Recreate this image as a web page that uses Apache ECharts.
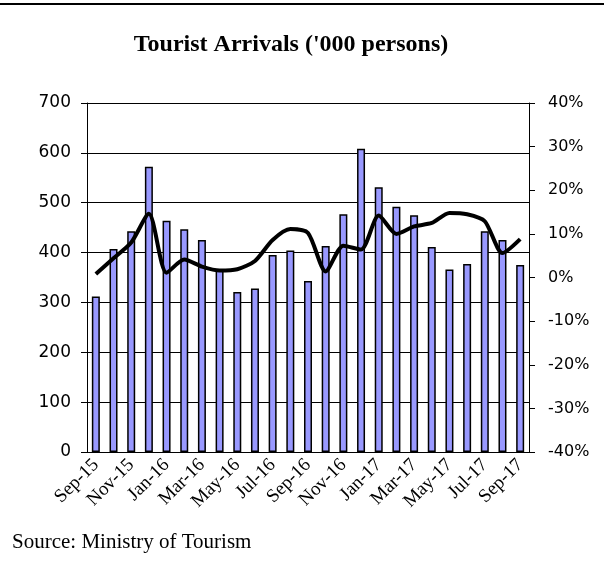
<!DOCTYPE html>
<html>
<head>
<meta charset="utf-8">
<script src="https://cdn.jsdelivr.net/npm/echarts@6/dist/echarts.min.js"></script>
<style>
  html, body { margin: 0; padding: 0; background: #fff; }
  #chart { width: 604px; height: 567px; }
</style>
</head>
<body>
<div id="chart"></div>
<script>
// months Sep-15 .. Sep-17
const months = [
  "Sep-15", "Oct-15", "Nov-15", "Dec-15", "Jan-16", "Feb-16", "Mar-16",
  "Apr-16", "May-16", "Jun-16", "Jul-16", "Aug-16", "Sep-16", "Oct-16",
  "Nov-16", "Dec-16", "Jan-17", "Feb-17", "Mar-17", "Apr-17", "May-17",
  "Jun-17", "Jul-17", "Aug-17", "Sep-17"
];
// tourist arrivals, '000 persons (left axis)
const arrivals = [
  312, 407, 443, 572, 464, 447, 425, 364, 321, 328, 395, 404, 343,
  413, 477, 608, 531, 492, 475, 411, 366, 377, 443, 425, 375
];
// y/y growth, % (right axis)
const growth = [
  0.8, 4.4, 8.0, 14.6, 1.1, 4.1, 2.5, 1.6, 1.9, 3.8, 8.6, 11.1, 10.2,
  1.4, 7.3, 6.4, 14.2, 10.0, 11.7, 12.5, 14.8, 14.5, 12.9, 5.6, 8.8
];

const serif = "Liberation Serif";
const sans = "DejaVu Sans";
const chart = echarts.init(document.getElementById("chart"));

chart.setOption({
  animation: false,
  backgroundColor: "#fff",
  textStyle: { fontFamily: serif, color: "#000" },
  graphic: [
    {
      type: "line",
      shape: { x1: 0, y1: 4, x2: 604, y2: 4 },
      style: { stroke: "#000", lineWidth: 2 }
    },
    {
      type: "text",
      x: 291,
      y: 33,
      style: {
        text: "Tourist Arrivals ('000 persons)",
        fontFamily: serif, fontSize: 24, fontWeight: "bold",
        fill: "#000", align: "center"
      }
    },
    {
      type: "text",
      x: 12,
      y: 532,
      style: { text: "Source: Ministry of Tourism", fontFamily: serif, fontSize: 21, fill: "#000" }
    }
  ],
  grid: { left: 87, right: 75, top: 103, bottom: 115, outerBoundsMode: "none" },
  xAxis: {
    type: "category",
    data: months,
    boundaryGap: true,
    axisLine: { lineStyle: { color: "#000", width: 1 } },
    axisTick: { interval: 1, length: 6, lineStyle: { color: "#000" } },
    axisLabel: {
      interval: 1,
      rotate: 45,
      fontFamily: serif,
      fontSize: 19,
      color: "#000",
      margin: 10
    }
  },
  yAxis: [
    {
      type: "value",
      min: 0,
      max: 700,
      interval: 100,
      axisLine: { show: true, lineStyle: { color: "#000" } },
      axisTick: { show: true, length: 6, lineStyle: { color: "#000" } },
      axisLabel: { fontFamily: sans, fontSize: 17, color: "#000", margin: 16 },
      splitLine: { lineStyle: { color: "#000", width: 1 } }
    },
    {
      type: "value",
      min: -40,
      max: 40,
      interval: 10,
      position: "right",
      axisLine: { show: true, lineStyle: { color: "#000" } },
      axisTick: { show: true, length: 6, lineStyle: { color: "#000" } },
      axisLabel: { fontFamily: sans, fontSize: 16, color: "#000", margin: 19, formatter: "{value}%" },
      splitLine: { show: false }
    }
  ],
  series: [
    {
      name: "Arrivals",
      type: "bar",
      data: arrivals,
      barWidth: 8,
      itemStyle: { color: "#9999ff", borderColor: "#000", borderWidth: 1.5 }
    },
    {
      name: "Growth",
      type: "line",
      yAxisIndex: 1,
      data: growth,
      smooth: 0.25,
      symbol: "none",
      lineStyle: { color: "#000", width: 4 }
    }
  ]
});
</script>
</body>
</html>
